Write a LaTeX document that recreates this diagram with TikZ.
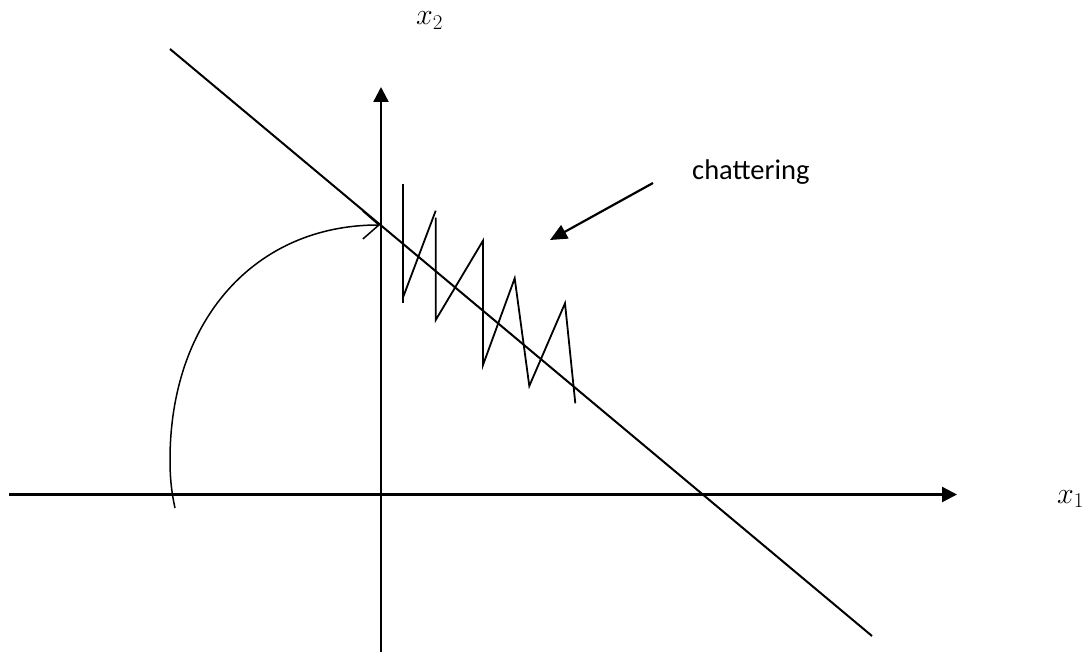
\RequirePackage{fix-cm}
\documentclass[tikz,border=0pt]{standalone}
\usepackage{fontspec}
\newfontfamily\labelfont{Carlito}
\usetikzlibrary{arrows.meta}
\begin{document}
\begin{tikzpicture}[x=1pt,y=-1pt,
  axis/.style={line width=2.4pt,-{Triangle[length=15pt,width=15pt]}},
  slide/.style={line width=2pt},
  zig/.style={line width=1.8pt,line join=miter},
  traj/.style={line width=1.5pt,-{Straight Barb[length=16pt,width=28pt,line width=1.5pt]}},
  pointer/.style={line width=2.2pt,-{Triangle[length=17pt,width=15pt]}},
  mathlabel/.style={inner sep=0pt,anchor=base west,font=\fontsize{30}{32}\selectfont},
  textlabel/.style={inner sep=0pt,anchor=base west,font=\labelfont\fontsize{28.5}{32}\selectfont}]
\useasboundingbox (0,0) rectangle (1089,655);
% coordinates
\coordinate (hL) at (9,494.5);
\coordinate (hR) at (957,494.5);
\coordinate (vB) at (381,652);
\coordinate (vT) at (381,87);
\coordinate (sA) at (170,49);
\coordinate (sB) at (872,636);
% axes
\draw[axis] (hL) -- (hR);
\draw[axis] (vB) -- (vT);
% sliding line
\draw[slide] (sA) -- (sB);
% labels
\node[mathlabel] (x1) at (1057,503) {$x_1$};
\node[mathlabel] (x2) at (416,25) {$x_2$};
\node[textlabel] (chat) at (692,180) {chattering};
% trajectory
\coordinate (t0) at (175,508);
\coordinate (t1) at (170,460);
\coordinate (t2) at (380,225);
\draw[traj] (t0) .. controls (171,490) and (170,475) .. (t1)
  .. controls (170,320) and (255,225) .. (t2);
% chattering zigzag
\coordinate (z1) at (403.3,184);
\coordinate (z2) at (403.3,303.3);
\coordinate (z3) at (403.3,296.7);
\coordinate (z4) at (435.7,210.7);
\coordinate (z5) at (435.7,217.7);
\coordinate (z6) at (435.7,320);
\coordinate (z7) at (483,240.7);
\coordinate (z8) at (483,365);
\coordinate (z9) at (514.7,278.3);
\coordinate (z10) at (529.3,386);
\coordinate (z11) at (565,303.3);
\coordinate (z12) at (575.3,403.3);
\draw[zig] (z1) -- (z2);
\draw[zig] (z3) -- (z4);
\draw[zig] (z5) -- (z6) -- (z7) -- (z8) -- (z9) -- (z10) -- (z11) -- (z12);
% pointer
\coordinate (pS) at (653,183);
\coordinate (pE) at (550,240);
\draw[pointer] (pS) -- (pE);
\end{tikzpicture}
\end{document}
